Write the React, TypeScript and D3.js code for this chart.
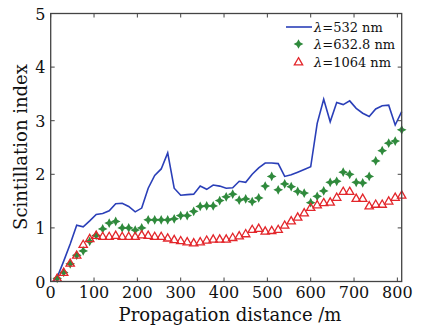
import React from "react";
import * as d3 from "d3";

const blueDist = [5, 15, 30, 45, 60, 75, 90, 105, 120, 135, 150, 165, 180, 195, 210, 225, 240, 255, 270, 285, 300, 315, 330, 345, 360, 375, 390, 405, 420, 435, 450, 465, 480, 495, 510, 525, 540, 555, 570, 585, 600, 615, 630, 645, 660, 675, 690, 705, 720, 735, 750, 765, 780, 795, 810];
const blueVals = [0.0, 0.08, 0.38, 0.70, 1.05, 1.02, 1.13, 1.25, 1.27, 1.32,
  1.45, 1.46, 1.40, 1.30, 1.37, 1.74, 1.98, 2.10, 2.40, 1.74,
  1.61, 1.62, 1.63, 1.78, 1.72, 1.80, 1.78, 1.74, 1.75, 1.87,
  1.85, 2.00, 2.12, 2.21, 2.21, 2.20, 1.96, 1.99, 2.04, 2.09,
  2.14, 2.95, 3.40, 2.98, 3.34, 3.30, 3.37, 3.23, 3.14, 3.08,
  3.22, 3.28, 3.29, 2.92, 3.17];

const markerDist = [15, 30, 45, 60, 75, 90, 105, 120, 135, 150, 165, 180, 195, 210, 225, 240, 255, 270, 285, 300, 315, 330, 345, 360, 375, 390, 405, 420, 435, 450, 465, 480, 495, 510, 525, 540, 555, 570, 585, 600, 615, 630, 645, 660, 675, 690, 705, 720, 735, 750, 765, 780, 795, 810];
const greenVals = [0.06, 0.17, 0.33, 0.49, 0.57, 0.75, 0.86, 0.98, 1.09, 1.12,
  1.00, 1.00, 0.96, 1.00, 1.15, 1.15, 1.15, 1.15, 1.17, 1.23,
  1.23, 1.31, 1.40, 1.41, 1.41, 1.51, 1.58, 1.63, 1.52, 1.54,
  1.49, 1.56, 1.78, 1.96, 1.71, 1.82, 1.77, 1.68, 1.65, 1.47,
  1.59, 1.69, 1.85, 1.87, 2.04, 2.00, 1.85, 1.84, 1.96, 2.25,
  2.44, 2.58, 2.62, 2.83];
const redVals = [0.05, 0.16, 0.33, 0.48, 0.68, 0.79, 0.85, 0.83, 0.83, 0.85,
  0.83, 0.83, 0.83, 0.86, 0.85, 0.83, 0.83, 0.80, 0.77, 0.75,
  0.73, 0.71, 0.73, 0.76, 0.78, 0.78, 0.78, 0.81, 0.84, 0.88,
  0.96, 0.98, 0.93, 0.94, 0.96, 1.04, 1.12, 1.19, 1.27, 1.37,
  1.42, 1.46, 1.47, 1.56, 1.67, 1.67, 1.54, 1.54, 1.40, 1.43,
  1.43, 1.49, 1.56, 1.60];

const xTicks = [0, 100, 200, 300, 400, 500, 600, 700, 800];
const yTicks = [0, 1, 2, 3, 4, 5];
const legendLabels = ["=532 nm", "=632.8 nm", "=1064 nm"];

const W = 427, H = 330;
const L = 50.7, R = 401.7, T = 13.5, B = 281.5;
const FONT = "'DejaVu Serif', serif";
const BLUE = "#2a3fb8";
const GREEN = "#2f8a3c";
const RED = "#e3262b";
const AX = "#444";

const star4: d3.SymbolType = {
  draw(ctx, size) {
    const r = Math.sqrt(size) * 0.75;
    const ri = r * 0.48;
    for (let i = 0; i < 8; i++) {
      const a = (Math.PI / 4) * i - Math.PI / 2;
      const rr = i % 2 === 0 ? r : ri;
      const px = rr * Math.cos(a), py = rr * Math.sin(a);
      if (i === 0) ctx.moveTo(px, py); else ctx.lineTo(px, py);
    }
    ctx.closePath();
  },
};

export default function App() {
  const x = d3.scaleLinear().domain([0, 810]).range([L, R]);
  const y = d3.scaleLinear().domain([0, 5]).range([B, T]);
  const line = d3.line<number>().x((_, i) => x(blueDist[i])).y((d) => y(d));
  const starPath = d3.symbol().type(star4).size(42)()!;
  const triPath = d3.symbol().type(d3.symbolTriangle).size(30)()!;
  const tk = 4;
  return (
    <svg width={W} height={H} style={{ position: "absolute", left: 0, top: 0, background: "#fff" }}>
      <rect x={0} y={0} width={W} height={H} fill="#fff" />
      {/* data */}
      <path d={line(blueVals)!} fill="none" stroke={BLUE} strokeWidth={1.6} />
      {greenVals.map((v, i) => (
        <path key={"g" + i} d={starPath} transform={`translate(${x(markerDist[i])},${y(v)})`} fill={GREEN} />
      ))}
      {redVals.map((v, i) => (
        <path key={"r" + i} d={triPath} transform={`translate(${x(markerDist[i])},${y(v)})`} fill="none" stroke={RED} strokeWidth={1.3} />
      ))}
      {/* frame */}
      <rect x={L} y={T} width={R - L} height={B - T} fill="none" stroke={AX} strokeWidth={1.3} />
      {xTicks.map((t) => (
        <g key={"xt" + t}>
          <line x1={x(t)} x2={x(t)} y1={B} y2={B - tk} stroke={AX} strokeWidth={1} />
          <line x1={x(t)} x2={x(t)} y1={T} y2={T + tk} stroke={AX} strokeWidth={1} />
          <text x={x(t)} y={297.5} textAnchor="middle" fontFamily={FONT} fontSize={16} fill="#111">{t}</text>
        </g>
      ))}
      {yTicks.map((t) => (
        <g key={"yt" + t}>
          <line x1={L} x2={L + tk} y1={y(t)} y2={y(t)} stroke={AX} strokeWidth={1} />
          <line x1={R} x2={R - tk} y1={y(t)} y2={y(t)} stroke={AX} strokeWidth={1} />
          <text x={45.5} y={y(t) + 6} textAnchor="end" fontFamily={FONT} fontSize={16} fill="#111">{t}</text>
        </g>
      ))}
      <text x={230} y={321} textAnchor="middle" fontFamily={FONT} fontSize={18} fill="#111">Propagation distance /m</text>
      <text transform={`translate(27,147) rotate(-90)`} textAnchor="middle" fontFamily={FONT} fontSize={18} fill="#111">Scintillation index</text>
      {/* legend */}
      <line x1={286} x2={312} y1={27} y2={27} stroke={BLUE} strokeWidth={1.6} />
      <path d={starPath} transform="translate(298.5,44)" fill={GREEN} />
      <path d={triPath} transform="translate(298.5,62.5)" fill="none" stroke={RED} strokeWidth={1.3} />
      {legendLabels.map((s, i) => (
        <text key={"lg" + i} x={314} y={31.5 + i * 17.8} fontFamily={FONT} fontSize={13} fill="#111">
          <tspan fontStyle="italic">λ</tspan>{s}
        </text>
      ))}
    </svg>
  );
}
